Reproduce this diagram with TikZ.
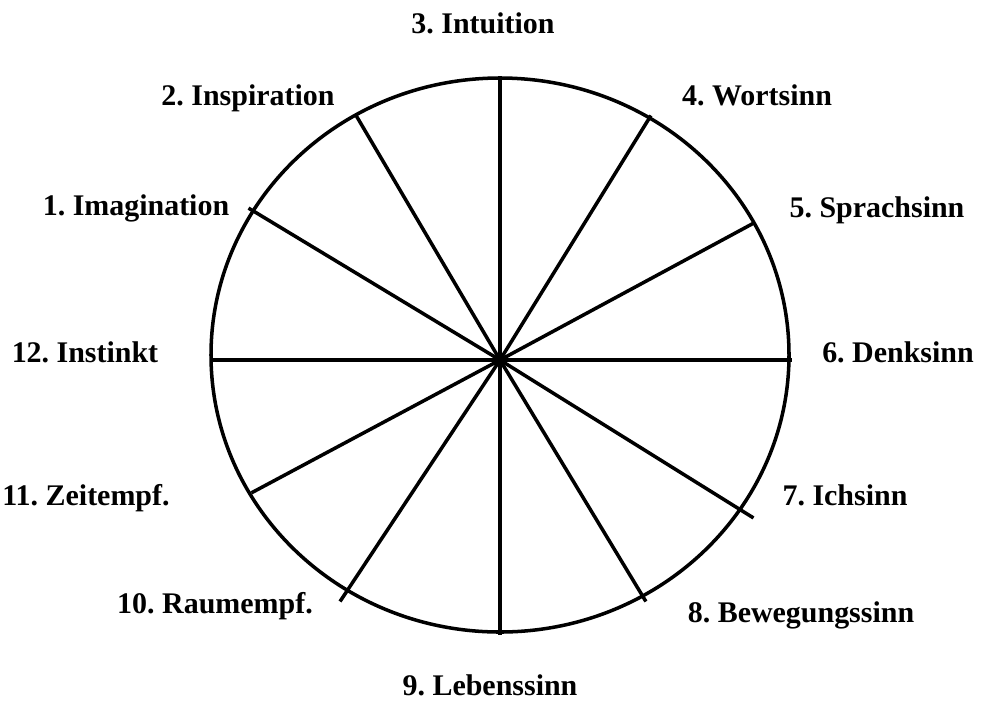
\documentclass[tikz,border=0pt]{standalone}
\usepackage{fontspec}
\setmainfont{Liberation Serif}
\usepackage{tikz}
\usetikzlibrary{positioning,calc}
\frenchspacing

\begin{document}
\begin{tikzpicture}[
  x=0.025cm, y=-0.025cm,
  every node/.style={font=\fontsize{21.3}{25}\selectfont\bfseries},
  lbl/.style ={anchor=base, inner sep=0pt},
  spoke/.style={line width=2.5pt, line cap=rect},
  rim/.style ={line width=2.5pt}
]
\useasboundingbox (0,0) rectangle (992,700);

%% --- Wheel ----------------------------------------------------
\coordinate (mid) at (500,360);
\draw[rim] (500,355) ellipse [x radius=289, y radius=277];

\coordinate (e6)  at (790,360);
\coordinate (e5)  at (752,224);
\coordinate (e4)  at (650,117);
\coordinate (e3)  at (500,78);
\coordinate (e2)  at (357,117);
\coordinate (e1)  at (250,209);
\coordinate (e12) at (212,360);
\coordinate (e11) at (253,492);
\coordinate (e10) at (341,600);
\coordinate (e9)  at (500,633);
\coordinate (e8)  at (645,600);
\coordinate (e7)  at (752,517);

\draw[spoke] (mid) -- (e6);
\draw[spoke] (mid) -- (e5);
\draw[spoke] (mid) -- (e4);
\draw[spoke] (mid) -- (e3);
\draw[spoke] (mid) -- (e2);
\draw[spoke] (mid) -- (e1);
\draw[spoke] (mid) -- (e12);
\draw[spoke] (mid) -- (e11);
\draw[spoke] (mid) -- (e10);
\draw[spoke] (mid) -- (e9);
\draw[spoke] (mid) -- (e8);
\draw[spoke] (mid) -- (e7);

%% --- Labels ---------------------------------------------------
\node[lbl] (intuition)   at (483,33)  {3. Intuition};
\node[lbl] (inspiration) at (248,105) {2. Inspiration};
\node[lbl] (wortsinn)    at (757,105) {4. Wortsinn};
\node[lbl] (imagination) at (136,215) {1. Imagination};
\node[lbl] (sprachsinn)  at (877,217) {5. Sprachsinn};
\node[lbl] (instinkt)    at (85,362)  {12. Instinkt};
\node[lbl] (denksinn)    at (898,362) {6. Denksinn};
\node[lbl] (zeitempf)    at (86,505)  {11. Zeitempf.};
\node[lbl] (ichsinn)     at (845,505) {7. Ichsinn};
\node[lbl] (raumempf)    at (215,613) {10. Raumempf.};
\node[lbl] (bewegung)    at (801,622) {8. Bewegungssinn};
\node[lbl] (lebenssinn)  at (490,695) {9. Lebenssinn};

\end{tikzpicture}
\end{document}
